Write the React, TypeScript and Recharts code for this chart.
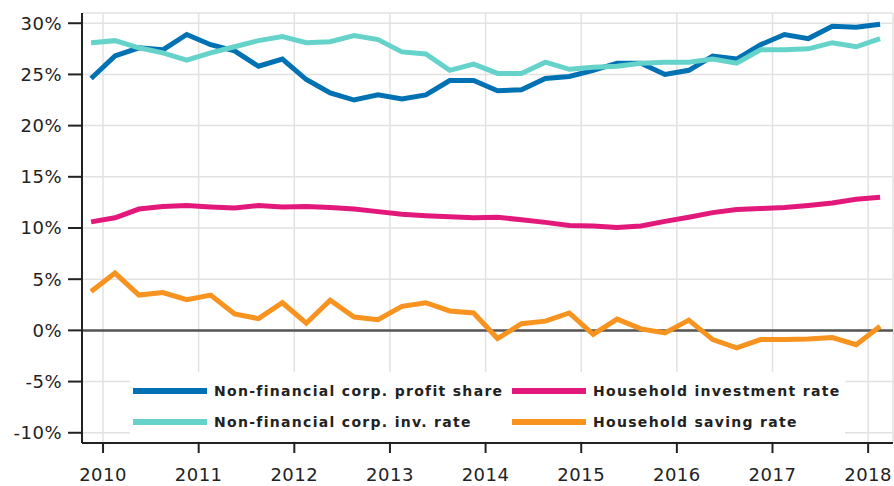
import React from 'react';
import {
  LineChart,
  Line,
  XAxis,
  YAxis,
  CartesianGrid,
  ReferenceLine,
} from 'recharts';

/* ── Data (quarterly, 2009Q4 – 2018Q1, %) ─────────────────── */
const quarters = [
  '2009Q4',
  '2010Q1', '2010Q2', '2010Q3', '2010Q4',
  '2011Q1', '2011Q2', '2011Q3', '2011Q4',
  '2012Q1', '2012Q2', '2012Q3', '2012Q4',
  '2013Q1', '2013Q2', '2013Q3', '2013Q4',
  '2014Q1', '2014Q2', '2014Q3', '2014Q4',
  '2015Q1', '2015Q2', '2015Q3', '2015Q4',
  '2016Q1', '2016Q2', '2016Q3', '2016Q4',
  '2017Q1', '2017Q2', '2017Q3', '2017Q4',
  '2018Q1',
];

const profitShare = [
  24.6, 26.8, 27.6, 27.4, 28.9, 27.9, 27.3, 25.8, 26.5, 24.5, 23.2, 22.5,
  23.0, 22.6, 23.0, 24.4, 24.4, 23.4, 23.5, 24.6, 24.8, 25.4, 26.1, 26.1,
  25.0, 25.4, 26.8, 26.5, 27.9, 28.9, 28.5, 29.7, 29.6, 29.9,
];

const corpInvRate = [
  28.1, 28.3, 27.6, 27.1, 26.4, 27.1, 27.7, 28.3, 28.7, 28.1, 28.2, 28.8,
  28.4, 27.2, 27.0, 25.4, 26.0, 25.1, 25.1, 26.2, 25.5, 25.7, 25.8, 26.1,
  26.2, 26.2, 26.5, 26.1, 27.4, 27.4, 27.5, 28.1, 27.7, 28.5,
];

const householdInvRate = [
  10.6, 11.0, 11.85, 12.1, 12.2, 12.05, 11.95, 12.2, 12.05, 12.1, 12.0, 11.85,
  11.6, 11.35, 11.2, 11.1, 11.0, 11.05, 10.8, 10.55, 10.25, 10.2, 10.05, 10.2,
  10.65, 11.05, 11.5, 11.8, 11.9, 12.0, 12.2, 12.45, 12.8, 13.0,
];

const householdSavingRate = [
  3.8, 5.6, 3.45, 3.7, 3.0, 3.45, 1.6, 1.15, 2.7, 0.7, 2.95, 1.3,
  1.05, 2.35, 2.7, 1.9, 1.7, -0.8, 0.65, 0.9, 1.7, -0.4, 1.1, 0.15,
  -0.25, 1.0, -0.9, -1.7, -0.9, -0.9, -0.85, -0.7, -1.4, 0.4,
];

const yearTicks = [2010, 2011, 2012, 2013, 2014, 2015, 2016, 2017, 2018];
const pctTicks = [-10, -5, 0, 5, 10, 15, 20, 25, 30];

/* ── Tokens ───────────────────────────────────────────────── */
const COLORS = {
  profit: '#0071B3',
  corpInv: '#66D3CB',
  hhInv: '#E2197B',
  saving: '#F7931E',
  grid: '#E2E2E2',
  axis: '#222222',
  zero: '#555555',
  text: '#222222',
};

const FONT = "'DejaVu Sans', Verdana, sans-serif";

const SERIES = [
  { key: 'profitShare', name: 'Non-financial corp. profit share', color: COLORS.profit },
  { key: 'corpInvRate', name: 'Non-financial corp. inv. rate', color: COLORS.corpInv },
  { key: 'householdInvRate', name: 'Household investment rate', color: COLORS.hhInv },
  { key: 'householdSavingRate', name: 'Household saving rate', color: COLORS.saving },
];

const chartData = quarters.map((q, i) => ({
  t: Number(q.slice(0, 4)) + (Number(q.slice(5)) - 0.5) / 4,
  profitShare: profitShare[i],
  corpInvRate: corpInvRate[i],
  householdInvRate: householdInvRate[i],
  householdSavingRate: householdSavingRate[i],
}));

/* ── Legend (HTML overlay, white box over the grid) ──────── */
const legendOrder = [SERIES[0], SERIES[2], SERIES[1], SERIES[3]];

const LegendBox: React.FC = () => (
  <div
    style={{
      position: 'absolute',
      left: 130,
      top: 372,
      width: 715,
      height: 69,
      display: 'grid',
      gridTemplateColumns: '379px 336px',
      gridAutoRows: '20px',
      rowGap: 11,
      padding: '9px 0 0 3px',
      boxSizing: 'border-box',
      background: '#fff',
    }}
  >
    {legendOrder.map((s) => (
      <div key={s.key} style={{ display: 'flex', alignItems: 'center', height: 20 }}>
        <span style={{ width: 74, height: 6, background: s.color, flexShrink: 0 }} />
        <span
          style={{
            marginLeft: 7,
            fontFamily: FONT,
            fontSize: 14,
            fontWeight: 'bold',
            letterSpacing: 1.3,
            color: COLORS.text,
            whiteSpace: 'nowrap',
          }}
        >
          {s.name}
        </span>
      </div>
    ))}
  </div>
);

/* ── Chart ────────────────────────────────────────────────── */
const tickStyle = { fontFamily: FONT, fontSize: 18, fill: COLORS.text, letterSpacing: 0.5 };

export default function App() {
  return (
    <div style={{ position: 'absolute', left: 0, top: 0, width: 894, height: 486, background: '#fff' }}>
      <LineChart
        width={894}
        height={486}
        data={chartData}
        margin={{ top: 13, right: 1, bottom: 0, left: 0 }}
      >
        <CartesianGrid stroke={COLORS.grid} strokeWidth={1.5} />
        <XAxis
          dataKey="t"
          type="number"
          domain={[2009.78, 2018.26]}
          ticks={yearTicks}
          allowDataOverflow
          height={43}
          tick={tickStyle}
          tickSize={10}
          tickMargin={15}
          tickLine={{ stroke: COLORS.axis, strokeWidth: 2 }}
          axisLine={{ stroke: COLORS.axis, strokeWidth: 2 }}
        />
        <YAxis
          type="number"
          domain={[-11, 31]}
          ticks={pctTicks}
          allowDataOverflow
          width={82}
          tick={tickStyle}
          tickSize={14}
          tickMargin={6}
          tickFormatter={(v: number) => `${v}%`}
          tickLine={{ stroke: COLORS.axis, strokeWidth: 2 }}
          axisLine={{ stroke: COLORS.axis, strokeWidth: 2 }}
        />
        <ReferenceLine y={0} stroke={COLORS.zero} strokeWidth={2.5} />
        {SERIES.map((s) => (
          <Line
            key={s.key}
            type="linear"
            dataKey={s.key}
            name={s.name}
            stroke={s.color}
            strokeWidth={5}
            dot={false}
            isAnimationActive={false}
          />
        ))}
      </LineChart>
      <LegendBox />
    </div>
  );
}
